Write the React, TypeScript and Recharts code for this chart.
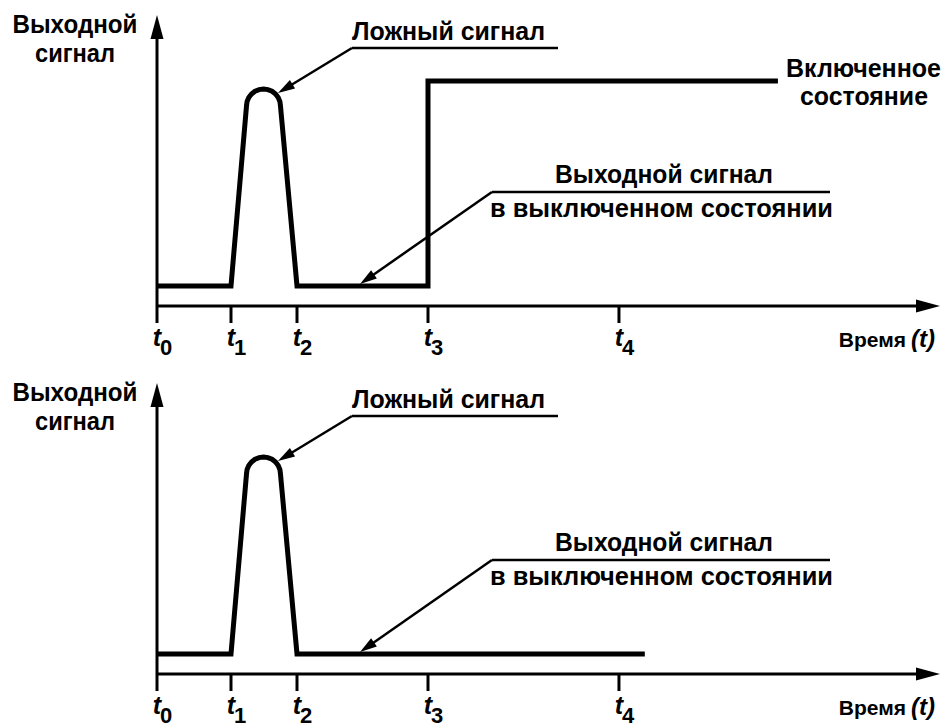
import React from 'react';
import { LineChart, Line, XAxis, YAxis, ReferenceLine } from 'recharts';

// ---- data (time axis 0..100, signal level 0..100) ----
const tickValues = [0, 9.45, 17.88, 34.61, 59.0];
const tickSubscripts = ['0', '1', '2', '3', '4'];

// top panel: false pulse, then switch to ON state at t3
const timeTop = [0, 9.45, 11.43, 11.5, 11.72, 12.07, 12.52, 13.04, 13.6, 14.16, 14.69, 15.14, 15.48, 15.7, 15.77, 17.88, 34.61, 34.61, 79.3];
const levelTop = [6.9, 6.9, 68.73, 70.24, 71.65, 72.86, 73.79, 74.37, 74.57, 74.37, 73.79, 72.86, 71.65, 70.24, 68.73, 6.9, 6.9, 77.3, 77.3];

// bottom panel: false pulse only, stays OFF
const timeBottom = [0, 9.45, 11.43, 11.5, 11.72, 12.07, 12.52, 13.04, 13.6, 14.16, 14.69, 15.14, 15.48, 15.7, 15.77, 17.88, 62.3];
const levelBottom = [6.9, 6.9, 68.73, 70.24, 71.65, 72.86, 73.79, 74.37, 74.57, 74.37, 73.79, 72.86, 71.65, 70.24, 68.73, 6.9, 6.9];

// annotation leaders (data units): [start, arrow tip], underline end x
const falseLeaderStart = { x: 24.9, y: 88.66 };
const falseLeaderTip = { x: 15.45, y: 73.2 };
const falseUnderlineEnd = 51.21;
const offLeaderStart = { x: 42.78, y: 39.18 };
const offLeaderTip = { x: 25.93, y: 7.56 };
const offUnderlineEnd = 85.95;

const topData = timeTop.map((t, i) => ({ t, v: levelTop[i] }));
const bottomData = timeBottom.map((t, i) => ({ t, v: levelBottom[i] }));

const FONT = '"Liberation Sans", Arial, Helvetica, sans-serif';

const arrowShape = (headLen: number, headW: number, sw: number) => (p: any) => {
  const x1 = Number(p.x1), y1 = Number(p.y1), x2 = Number(p.x2), y2 = Number(p.y2);
  const dx = x2 - x1, dy = y2 - y1;
  const L = Math.hypot(dx, dy) || 1;
  const ux = dx / L, uy = dy / L;
  const bx = x2 - ux * headLen, by = y2 - uy * headLen;
  const nx = -uy, ny = ux;
  return (
    <g>
      <line x1={x1} y1={y1} x2={bx + ux * 2} y2={by + uy * 2} stroke="#000" strokeWidth={sw} />
      <polygon
        points={`${x2},${y2} ${bx + (nx * headW) / 2},${by + (ny * headW) / 2} ${bx - (nx * headW) / 2},${by - (ny * headW) / 2}`}
        fill="#000"
      />
    </g>
  );
};

const TimeTick = (props: any) => {
  const { x, y, index } = props;
  return (
    <g>
      <text x={x} y={y + 21} textAnchor="middle" fontFamily={FONT} fontStyle="italic" fontWeight={700} fontSize={25} fill="#000">
        t
      </text>
      <text x={x + 3} y={y + 30} textAnchor="start" fontFamily={FONT} fontWeight={700} fontSize={22} fill="#000">
        {tickSubscripts[index]}
      </text>
    </g>
  );
};

const T = ({ x, y, w, anchor = 'start', children }: any) => (
  <text
    x={x}
    y={y}
    textAnchor={anchor}
    fontFamily={FONT}
    fontWeight={700}
    fontSize={25}
    fill="#000"
    textLength={w}
    lengthAdjust="spacingAndGlyphs"
  >
    {children}
  </text>
);

const Panel = ({ data, height, marginBottom, showOn }: any) => (
  <LineChart
    width={952}
    height={height}
    data={data}
    margin={{ top: 15, right: 12, left: 157, bottom: marginBottom }}
  >
    <XAxis
      type="number"
      dataKey="t"
      domain={[0, 100]}
      ticks={tickValues}
      interval={0}
      axisLine={false}
      tickSize={17}
      tickLine={{ stroke: '#000', strokeWidth: 3 }}
      tick={<TimeTick />}
      height={50}
    />
    <YAxis type="number" domain={[0, 100]} hide />
    <ReferenceLine
      ifOverflow="visible"
      segment={[{ x: 0, y: 0 }, { x: 0, y: 100 }]}
      shape={arrowShape(24, 13, 3)}
    />
    <ReferenceLine
      ifOverflow="visible"
      segment={[{ x: 0, y: 0 }, { x: 100, y: 0 }]}
      shape={arrowShape(24, 13, 3)}
    />
    <ReferenceLine
      ifOverflow="visible"
      segment={[falseLeaderStart, { x: falseUnderlineEnd, y: falseLeaderStart.y }]}
      stroke="#000"
      strokeWidth={2.5}
    />
    <ReferenceLine
      ifOverflow="visible"
      segment={[falseLeaderStart, falseLeaderTip]}
      shape={arrowShape(17, 10, 2.5)}
    />
    <ReferenceLine
      ifOverflow="visible"
      segment={[offLeaderStart, { x: offUnderlineEnd, y: offLeaderStart.y }]}
      stroke="#000"
      strokeWidth={2.5}
    />
    <ReferenceLine
      ifOverflow="visible"
      segment={[offLeaderStart, offLeaderTip]}
      shape={arrowShape(17, 10, 2.5)}
    />
    <Line
      type="linear"
      dataKey="v"
      stroke="#000"
      strokeWidth={5}
      dot={false}
      activeDot={false}
      isAnimationActive={false}
    />
    <T x={75} y={33} w={125} anchor="middle">Выходной</T>
    <T x={75} y={62} w={80} anchor="middle">сигнал</T>
    <T x={352} y={40} w={193}>Ложный сигнал</T>
    <T x={555} y={183} w={218}>Выходной сигнал</T>
    <T x={490} y={217} w={343}>в выключенном состоянии</T>
    {showOn && <T x={941} y={77} w={155} anchor="end">Включенное</T>}
    {showOn && <T x={864} y={105} w={128} anchor="middle">состояние</T>}
    <text x={906} y={347} textAnchor="end" fontFamily={FONT} fontWeight={700} fontSize={21} fill="#000">
      Время
    </text>
    <text x={911} y={347} textAnchor="start" fontFamily={FONT} fontStyle="italic" fontWeight={700} fontSize={24} fill="#000">
      (t)
    </text>
  </LineChart>
);

export default function App() {
  return (
    <div style={{ position: 'absolute', left: 0, top: 0, width: 952, height: 728, background: '#fff' }}>
      <div style={{ position: 'absolute', left: 0, top: 0 }}>
        <Panel data={topData} height={368} marginBottom={12} showOn />
      </div>
      <div style={{ position: 'absolute', left: 0, top: 368 }}>
        <Panel data={bottomData} height={360} marginBottom={4} showOn={false} />
      </div>
    </div>
  );
}
